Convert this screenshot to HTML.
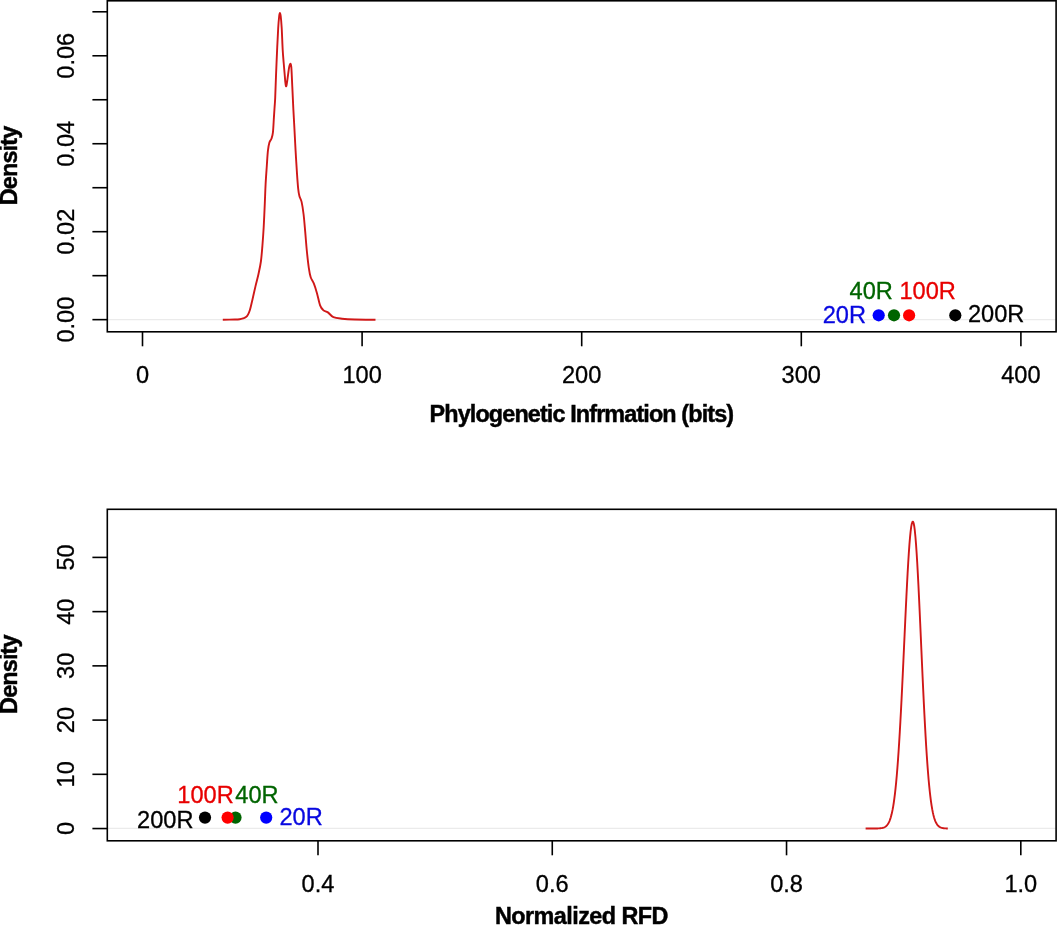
<!DOCTYPE html><html><head><meta charset="utf-8"><style>html,body{margin:0;padding:0;background:#fff;overflow:hidden}svg{display:block}text{font-family:"Liberation Sans",Arial,Helvetica,sans-serif}</style></head><body>
<svg width="1057" height="925" viewBox="0 0 1057 925">
<rect width="1057" height="925" fill="#fff"/>
<line x1="107.30" y1="319.60" x2="1056.10" y2="319.60" stroke="#ebebeb" stroke-width="1.2"/>
<rect x="107.30" y="0.80" width="948.80" height="331.00" fill="none" stroke="#000" stroke-width="1.60"/>
<line x1="92.4" y1="319.65" x2="107.30" y2="319.65" stroke="#000" stroke-width="1.60"/>
<line x1="92.4" y1="275.67" x2="107.30" y2="275.67" stroke="#000" stroke-width="1.60"/>
<line x1="92.4" y1="231.69" x2="107.30" y2="231.69" stroke="#000" stroke-width="1.60"/>
<line x1="92.4" y1="187.71" x2="107.30" y2="187.71" stroke="#000" stroke-width="1.60"/>
<line x1="92.4" y1="143.73" x2="107.30" y2="143.73" stroke="#000" stroke-width="1.60"/>
<line x1="92.4" y1="99.75" x2="107.30" y2="99.75" stroke="#000" stroke-width="1.60"/>
<line x1="92.4" y1="55.77" x2="107.30" y2="55.77" stroke="#000" stroke-width="1.60"/>
<line x1="92.4" y1="11.79" x2="107.30" y2="11.79" stroke="#000" stroke-width="1.60"/>
<text transform="translate(74.20,319.65) rotate(-90)" text-anchor="middle" font-size="23.60" stroke="#000" stroke-width="0.3">0.00</text>
<text transform="translate(74.20,231.69) rotate(-90)" text-anchor="middle" font-size="23.60" stroke="#000" stroke-width="0.3">0.02</text>
<text transform="translate(74.20,143.73) rotate(-90)" text-anchor="middle" font-size="23.60" stroke="#000" stroke-width="0.3">0.04</text>
<text transform="translate(74.20,55.77) rotate(-90)" text-anchor="middle" font-size="23.60" stroke="#000" stroke-width="0.3">0.06</text>
<line x1="142.50" y1="331.80" x2="142.50" y2="346.30" stroke="#000" stroke-width="1.60"/>
<line x1="362.10" y1="331.80" x2="362.10" y2="346.30" stroke="#000" stroke-width="1.60"/>
<line x1="581.70" y1="331.80" x2="581.70" y2="346.30" stroke="#000" stroke-width="1.60"/>
<line x1="801.30" y1="331.80" x2="801.30" y2="346.30" stroke="#000" stroke-width="1.60"/>
<line x1="1020.90" y1="331.80" x2="1020.90" y2="346.30" stroke="#000" stroke-width="1.60"/>
<text x="142.50" y="382.60" text-anchor="middle" font-size="23.60" stroke="#000" stroke-width="0.3">0</text>
<text x="362.10" y="382.60" text-anchor="middle" font-size="23.60" stroke="#000" stroke-width="0.3">100</text>
<text x="581.70" y="382.60" text-anchor="middle" font-size="23.60" stroke="#000" stroke-width="0.3">200</text>
<text x="801.30" y="382.60" text-anchor="middle" font-size="23.60" stroke="#000" stroke-width="0.3">300</text>
<text x="1020.90" y="382.60" text-anchor="middle" font-size="23.60" stroke="#000" stroke-width="0.3">400</text>
<text x="581.85" y="421.70" text-anchor="middle" font-size="23.40" font-weight="bold" stroke="#000" stroke-width="0.45" textLength="304.5" lengthAdjust="spacing">Phylogenetic Infrmation (bits)</text>
<text transform="translate(16.70,165.50) rotate(-90)" text-anchor="middle" font-size="23.40" font-weight="bold" stroke="#000" stroke-width="0.45" textLength="79.5" lengthAdjust="spacing">Density</text>
<path d="M222.80,319.70 C224.83,319.67 232.18,319.58 235.00,319.50 C237.82,319.42 238.37,319.38 239.70,319.20 C241.03,319.02 241.95,318.75 243.00,318.40 C244.05,318.05 245.17,317.73 246.00,317.10 C246.83,316.47 247.35,315.77 248.00,314.60 C248.65,313.43 249.20,312.42 249.90,310.10 C250.60,307.78 251.28,304.62 252.20,300.70 C253.12,296.78 254.35,291.05 255.40,286.60 C256.45,282.15 257.58,278.18 258.50,274.00 C259.42,269.82 260.25,266.20 260.90,261.50 C261.55,256.80 261.93,251.55 262.40,245.80 C262.87,240.05 263.30,234.05 263.70,227.00 C264.10,219.95 264.48,210.63 264.80,203.50 C265.12,196.37 265.27,190.45 265.60,184.20 C265.93,177.95 266.42,171.55 266.80,166.00 C267.18,160.45 267.47,154.82 267.90,150.90 C268.33,146.98 268.82,144.52 269.40,142.50 C269.98,140.48 270.82,140.43 271.40,138.80 C271.98,137.17 272.48,136.23 272.90,132.70 C273.32,129.17 273.62,121.88 273.90,117.60 C274.18,113.32 274.38,110.30 274.60,107.00 C274.82,103.70 274.97,102.97 275.20,97.80 C275.43,92.63 275.68,83.97 276.00,76.00 C276.32,68.03 276.73,58.00 277.10,50.00 C277.47,42.00 277.85,33.67 278.20,28.00 C278.55,22.33 278.92,18.50 279.20,16.00 C279.48,13.50 279.65,13.00 279.90,13.00 C280.15,13.00 280.40,13.50 280.70,16.00 C281.00,18.50 281.37,22.33 281.70,28.00 C282.03,33.67 282.37,44.17 282.70,50.00 C283.03,55.83 283.35,58.68 283.70,63.00 C284.05,67.32 284.53,72.73 284.80,75.90 C285.07,79.07 285.12,80.32 285.30,82.00 C285.48,83.68 285.70,85.42 285.90,86.00 C286.10,86.58 286.28,86.33 286.50,85.50 C286.72,84.67 286.97,82.60 287.20,81.00 C287.43,79.40 287.57,78.23 287.90,75.90 C288.23,73.57 288.77,69.02 289.20,67.00 C289.63,64.98 290.15,63.80 290.50,63.80 C290.85,63.80 291.08,64.98 291.30,67.00 C291.52,69.02 291.57,71.17 291.80,75.90 C292.03,80.63 292.43,89.72 292.70,95.40 C292.97,101.08 293.12,104.53 293.40,110.00 C293.68,115.47 294.03,121.38 294.40,128.20 C294.77,135.02 295.17,143.33 295.60,150.90 C296.03,158.47 296.57,167.28 297.00,173.60 C297.43,179.92 297.80,185.07 298.20,188.80 C298.60,192.53 298.83,193.82 299.40,196.00 C299.97,198.18 300.90,198.82 301.60,201.90 C302.30,204.98 303.00,209.53 303.60,214.50 C304.20,219.47 304.67,225.70 305.20,231.70 C305.73,237.70 306.20,244.48 306.80,250.50 C307.40,256.52 308.15,263.35 308.80,267.80 C309.45,272.25 309.87,274.60 310.70,277.20 C311.53,279.80 312.77,280.78 313.80,283.40 C314.83,286.02 315.85,289.23 316.90,292.90 C317.95,296.57 319.05,302.53 320.10,305.40 C321.15,308.27 321.90,308.93 323.20,310.10 C324.50,311.27 326.20,311.23 327.90,312.40 C329.60,313.57 331.05,316.05 333.40,317.10 C335.75,318.15 338.43,318.30 342.00,318.70 C345.57,319.10 349.22,319.33 354.80,319.50 C360.38,319.67 372.05,319.67 375.50,319.70" fill="none" stroke="#d01818" stroke-width="1.9" stroke-linejoin="round"/>
<circle cx="878.70" cy="315.3" r="6.1" fill="#0000ff"/>
<circle cx="894.00" cy="315.3" r="6.1" fill="#006400"/>
<circle cx="909.10" cy="315.3" r="6.1" fill="#ff0000"/>
<circle cx="955.30" cy="315.3" r="6.1" fill="#000"/>
<text x="866.0" y="322.6" text-anchor="end" font-size="23.60" fill="#0808e0" stroke="#0808e0" stroke-width="0.3">20R</text>
<text x="871.2" y="298.9" text-anchor="middle" font-size="23.60" fill="#006400" stroke="#006400" stroke-width="0.3">40R</text>
<text x="927.7" y="298.6" text-anchor="middle" font-size="23.60" fill="#e80000" stroke="#e80000" stroke-width="0.3">100R</text>
<text x="968.0" y="322.4" text-anchor="start" font-size="23.60" fill="#000" stroke="#000" stroke-width="0.3">200R</text>
<line x1="107.30" y1="828.40" x2="1056.10" y2="828.40" stroke="#ebebeb" stroke-width="1.2"/>
<rect x="107.30" y="509.30" width="948.80" height="331.50" fill="none" stroke="#000" stroke-width="1.60"/>
<line x1="92.4" y1="828.55" x2="107.30" y2="828.55" stroke="#000" stroke-width="1.60"/>
<line x1="92.4" y1="774.32" x2="107.30" y2="774.32" stroke="#000" stroke-width="1.60"/>
<line x1="92.4" y1="720.09" x2="107.30" y2="720.09" stroke="#000" stroke-width="1.60"/>
<line x1="92.4" y1="665.86" x2="107.30" y2="665.86" stroke="#000" stroke-width="1.60"/>
<line x1="92.4" y1="611.63" x2="107.30" y2="611.63" stroke="#000" stroke-width="1.60"/>
<line x1="92.4" y1="557.40" x2="107.30" y2="557.40" stroke="#000" stroke-width="1.60"/>
<text transform="translate(74.20,828.55) rotate(-90)" text-anchor="middle" font-size="23.60" stroke="#000" stroke-width="0.3">0</text>
<text transform="translate(74.20,774.32) rotate(-90)" text-anchor="middle" font-size="23.60" stroke="#000" stroke-width="0.3">10</text>
<text transform="translate(74.20,720.09) rotate(-90)" text-anchor="middle" font-size="23.60" stroke="#000" stroke-width="0.3">20</text>
<text transform="translate(74.20,665.86) rotate(-90)" text-anchor="middle" font-size="23.60" stroke="#000" stroke-width="0.3">30</text>
<text transform="translate(74.20,611.63) rotate(-90)" text-anchor="middle" font-size="23.60" stroke="#000" stroke-width="0.3">40</text>
<text transform="translate(74.20,557.40) rotate(-90)" text-anchor="middle" font-size="23.60" stroke="#000" stroke-width="0.3">50</text>
<line x1="318.00" y1="840.80" x2="318.00" y2="855.30" stroke="#000" stroke-width="1.60"/>
<line x1="552.27" y1="840.80" x2="552.27" y2="855.30" stroke="#000" stroke-width="1.60"/>
<line x1="786.54" y1="840.80" x2="786.54" y2="855.30" stroke="#000" stroke-width="1.60"/>
<line x1="1020.81" y1="840.80" x2="1020.81" y2="855.30" stroke="#000" stroke-width="1.60"/>
<text x="318.00" y="891.60" text-anchor="middle" font-size="23.60" stroke="#000" stroke-width="0.3">0.4</text>
<text x="552.27" y="891.60" text-anchor="middle" font-size="23.60" stroke="#000" stroke-width="0.3">0.6</text>
<text x="786.54" y="891.60" text-anchor="middle" font-size="23.60" stroke="#000" stroke-width="0.3">0.8</text>
<text x="1020.81" y="891.60" text-anchor="middle" font-size="23.60" stroke="#000" stroke-width="0.3">1.0</text>
<text x="581.70" y="924.40" text-anchor="middle" font-size="23.40" font-weight="bold" stroke="#000" stroke-width="0.45" textLength="173.5" lengthAdjust="spacing">Normalized RFD</text>
<text transform="translate(16.70,674.20) rotate(-90)" text-anchor="middle" font-size="23.40" font-weight="bold" stroke="#000" stroke-width="0.45" textLength="79.4" lengthAdjust="spacing">Density</text>
<path d="M865.60,828.50 L866.20,828.50 L866.80,828.50 L867.40,828.50 L868.00,828.50 L868.60,828.50 L869.20,828.50 L869.80,828.50 L870.40,828.50 L871.00,828.50 L871.60,828.50 L872.20,828.50 L872.80,828.49 L873.40,828.49 L874.00,828.49 L874.60,828.49 L875.20,828.48 L875.80,828.47 L876.40,828.46 L877.00,828.45 L877.60,828.44 L878.20,828.41 L878.80,828.39 L879.40,828.35 L880.00,828.30 L880.60,828.24 L881.20,828.17 L881.80,828.07 L882.40,827.95 L883.00,827.79 L883.60,827.60 L884.20,827.36 L884.80,827.06 L885.40,826.69 L886.00,826.24 L886.60,825.69 L887.20,825.03 L887.80,824.23 L888.40,823.27 L889.00,822.13 L889.60,820.77 L890.20,819.17 L890.80,817.30 L891.40,815.11 L892.00,812.58 L892.60,809.67 L893.20,806.32 L893.80,802.52 L894.40,798.21 L895.00,793.36 L895.60,787.93 L896.20,781.89 L896.80,775.22 L897.40,767.89 L898.00,759.90 L898.60,751.23 L899.20,741.89 L899.80,731.90 L900.40,721.28 L901.00,710.09 L901.60,698.37 L902.20,686.19 L902.80,673.64 L903.40,660.80 L904.00,647.80 L904.60,634.74 L905.20,621.76 L905.80,608.99 L906.40,596.59 L907.00,584.68 L907.60,573.42 L908.20,562.95 L908.80,553.41 L909.40,544.93 L910.00,537.62 L910.60,531.59 L911.20,526.93 L911.80,523.69 L912.40,521.94 L913.00,521.69 L913.60,523.04 L914.20,525.99 L914.80,530.49 L915.40,536.47 L916.00,543.84 L916.60,552.49 L917.20,562.29 L917.80,573.09 L918.40,584.75 L919.00,597.10 L919.60,609.99 L920.20,623.25 L920.80,636.72 L921.40,650.25 L922.00,663.70 L922.60,676.94 L923.20,689.85 L923.80,702.33 L924.40,714.29 L925.00,725.67 L925.60,736.40 L926.20,746.44 L926.80,755.78 L927.40,764.39 L928.00,772.28 L928.60,779.46 L929.20,785.95 L929.80,791.77 L930.40,796.97 L931.00,801.57 L931.60,805.62 L932.20,809.17 L932.80,812.25 L933.40,814.91 L934.00,817.20 L934.60,819.15 L935.20,820.81 L935.80,822.20 L936.40,823.37 L937.00,824.35 L937.60,825.15 L938.20,825.82 L938.80,826.36 L939.40,826.80 L940.00,827.16 L940.60,827.45 L941.20,827.68 L941.80,827.86 L942.40,828.01 L943.00,828.12 L943.60,828.21 L944.20,828.28 L944.80,828.33 L945.40,828.38 L946.00,828.41 L946.60,828.43 L947.20,828.45 L947.80,828.46" fill="none" stroke="#d01818" stroke-width="1.9" stroke-linejoin="round"/>
<circle cx="266.20" cy="817.6" r="6.1" fill="#0000ff"/>
<circle cx="235.50" cy="817.6" r="6.1" fill="#006400"/>
<circle cx="227.60" cy="817.6" r="6.1" fill="#ff0000"/>
<circle cx="205.00" cy="817.6" r="6.1" fill="#000"/>
<text x="193.5" y="827.5" text-anchor="end" font-size="23.60" fill="#000" stroke="#000" stroke-width="0.3">200R</text>
<text x="205.5" y="802.8" text-anchor="middle" font-size="23.60" fill="#e80000" stroke="#e80000" stroke-width="0.3">100R</text>
<text x="257.0" y="802.9" text-anchor="middle" font-size="23.60" fill="#006400" stroke="#006400" stroke-width="0.3">40R</text>
<text x="279.5" y="825.4" text-anchor="start" font-size="23.60" fill="#0808e0" stroke="#0808e0" stroke-width="0.3">20R</text>
</svg></body></html>
